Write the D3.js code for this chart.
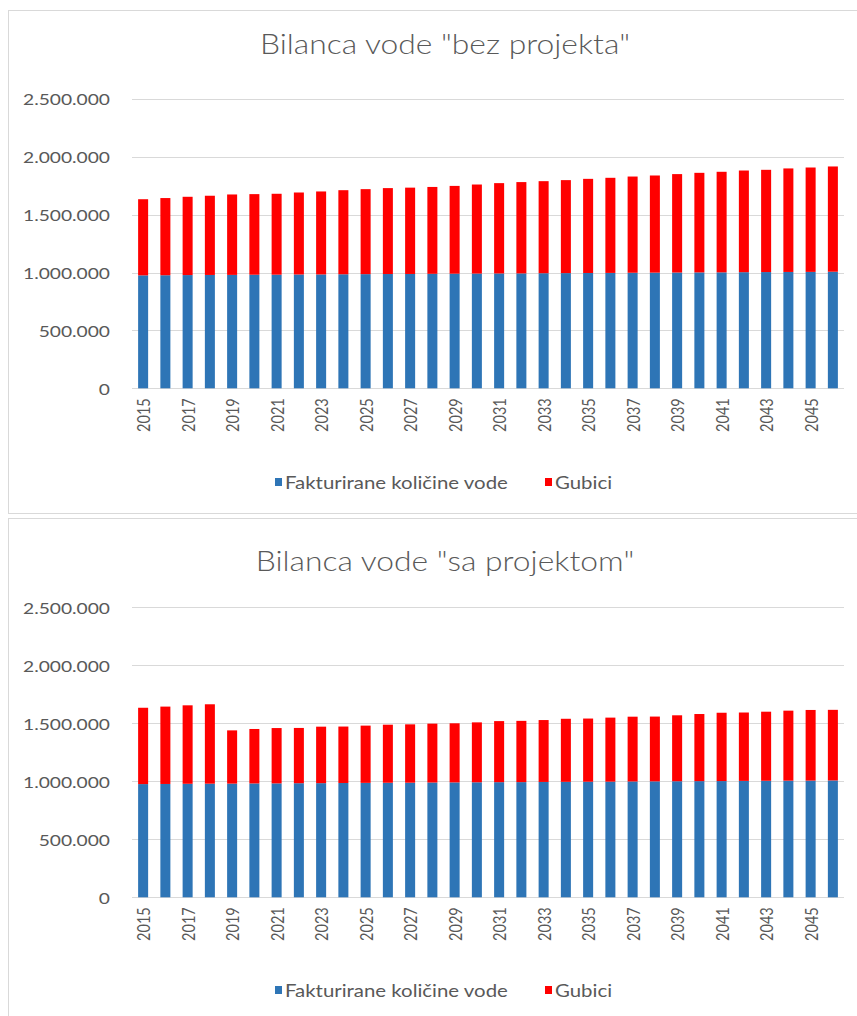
<!DOCTYPE html>
<html>
<head>
<meta charset="utf-8">
<script src="https://cdn.jsdelivr.net/npm/d3@7"></script>
<style>
  html, body { margin: 0; padding: 0; background: #ffffff; }
  svg { display: block; }
  text { font-family: Lato, "Open Sans", sans-serif; fill: #595959; }
</style>
</head>
<body>
<svg id="chart" width="857" height="1016"></svg>
<script>
// Years on the category axis
const years = [2015, 2016, 2017, 2018, 2019, 2020, 2021, 2022, 2023, 2024, 2025,
  2026, 2027, 2028, 2029, 2030, 2031, 2032, 2033, 2034, 2035, 2036, 2037, 2038,
  2039, 2040, 2041, 2042, 2043, 2044, 2045, 2046];

// Billed water quantities (same in both scenarios)
const billed = [976000, 977000, 978500, 979500, 980000, 981500, 982000, 983500,
  984000, 985500, 986500, 987500, 988000, 989500, 990500, 991500, 992500, 993000,
  994500, 995500, 996500, 997000, 998500, 999500, 1000500, 1001500, 1002000,
  1003500, 1004500, 1005500, 1006000, 1007500];

// Losses without the project
const lossesWithout = [658000, 667000, 676500, 684500, 695000, 696500, 699000,
  708500, 717000, 726500, 734500, 742500, 746000, 750500, 758500, 769500, 780500,
  789000, 795500, 803500, 813500, 822000, 831500, 839500, 850500, 860500, 869000,
  878500, 883500, 894500, 902000, 909500];

// Losses with the project
const lossesWith = [658000, 667000, 676500, 684500, 459000, 469500, 477000,
  476500, 487000, 486500, 493500, 500500, 503000, 507500, 509500, 516500, 526500,
  528000, 533500, 543500, 544500, 552000, 558500, 558500, 568500, 578500, 589000,
  589500, 595500, 603500, 609000, 608500];

const yTicks = [0, 500000, 1000000, 1500000, 2000000, 2500000];
const xTickYears = [2015, 2017, 2019, 2021, 2023, 2025, 2027, 2029, 2031, 2033,
  2035, 2037, 2039, 2041, 2043, 2045];

const seriesNames = ["Fakturirane količine vode", "Gubici"];
const seriesColors = ["#2e75b6", "#ff0000"];
const titles = ['Bilanca vode "bez projekta"', 'Bilanca vode "sa projektom"'];

const svg = d3.select("#chart");
const sx = 1.2; // horizontal stretch of the lettering
const fmt = d3.formatLocale({ decimal: ",", thousands: ".", grouping: [3], currency: ["", ""] }).format(",d");

const panels = [
  { top: 10.5, height: 503, title: titles[0], losses: lossesWithout, y0: 388.3, y1: 99.0, titleY: 54, legendY: 482 },
  { top: 518.5, height: 510, title: titles[1], losses: lossesWith, y0: 897.3, y1: 607.3, titleY: 571, legendY: 990 }
];

panels.forEach(p => {
  const g = svg.append("g");

  g.append("rect")
    .attr("x", 8.5).attr("y", p.top)
    .attr("width", 870).attr("height", p.height)
    .attr("fill", "#ffffff").attr("stroke", "#d9d9d9");

  g.append("text")
    .attr("transform", `translate(445,${p.titleY}) scale(${sx},1)`)
    .attr("text-anchor", "middle")
    .style("font-size", "26.5px")
    .style("font-weight", "300")
    .text(p.title);

  const x = d3.scaleBand().domain(years).range([132, 844]).paddingInner(0.55).paddingOuter(0.275);
  const y = d3.scaleLinear().domain([0, 2500000]).range([p.y0, p.y1]);

  // gridlines
  g.append("g").selectAll("line").data(yTicks).join("line")
    .attr("x1", 132).attr("x2", 844)
    .attr("y1", d => Math.round(y(d)) + 0.5).attr("y2", d => Math.round(y(d)) + 0.5)
    .attr("stroke", "#d9d9d9").attr("stroke-width", 1);

  // stacked bars
  const rows = years.map((yr, i) => ({ year: yr, a: billed[i], b: p.losses[i] }));
  const stack = d3.stack().keys(["a", "b"])(rows);
  g.append("g").selectAll("g").data(stack).join("g")
    .attr("fill", (d, i) => seriesColors[i])
    .selectAll("rect").data(d => d).join("rect")
    .attr("x", d => x(d.data.year))
    .attr("width", x.bandwidth())
    .attr("y", d => y(d[1]))
    .attr("height", d => y(d[0]) - y(d[1]));

  // y axis labels
  const ya = g.append("g").attr("transform", "translate(110,0)")
    .call(d3.axisLeft(y).tickValues(yTicks).tickSize(0).tickPadding(0).tickFormat(fmt));
  ya.select(".domain").remove();
  ya.selectAll("text")
    .attr("x", null).attr("dy", null)
    .attr("dominant-baseline", "central")
    .attr("transform", `scale(${sx},1)`)
    .style("font-size", "16px").style("font-family", "Lato, sans-serif").style("fill", "#595959");

  // x axis labels
  const xa = g.append("g").attr("transform", `translate(0,${p.y0 + 10})`)
    .call(d3.axisBottom(x).tickValues(xTickYears).tickSize(0).tickPadding(0));
  xa.select(".domain").remove();
  xa.selectAll("text")
    .attr("y", null).attr("dy", null)
    .attr("text-anchor", "end")
    .attr("dominant-baseline", "central")
    .attr("transform", `scale(${sx},1) rotate(-90)`)
    .style("font-size", "14.5px").style("font-family", "Lato, sans-serif").style("fill", "#595959");

  // legend
  const legendX = [275, 545];
  const leg = g.append("g").selectAll("g").data(seriesNames).join("g")
    .attr("transform", (d, i) => `translate(${legendX[i]},${p.legendY})`);
  leg.append("rect").attr("x", 0).attr("y", -4).attr("width", 7).attr("height", 8)
    .attr("fill", (d, i) => seriesColors[i]);
  leg.append("text")
    .attr("transform", `translate(10,0) scale(${sx},1)`)
    .attr("dominant-baseline", "central")
    .style("font-size", "17px")
    .text(d => d);
});
</script>
</body>
</html>
